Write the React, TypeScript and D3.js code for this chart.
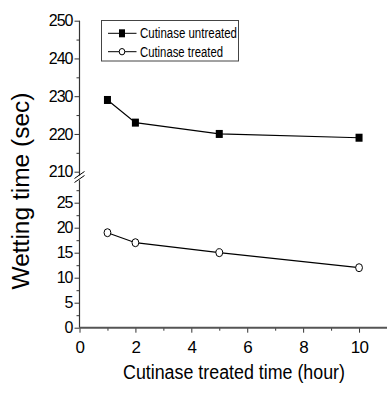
import React, { useEffect, useRef } from "react";
import * as d3 from "d3";

// data
const hours = [1, 2, 5, 10];
const untreated = [229, 223, 220, 219];
const treated = [19, 17, 15, 12];
const seriesNames = ["Cutinase untreated", "Cutinase treated"];
const xTicks = [0, 2, 4, 6, 8, 10];
const topTicks = [210, 220, 230, 240, 250];
const bottomTicks = [0, 5, 10, 15, 20, 25];

const App = () => {
  const ref = useRef<SVGSVGElement | null>(null);

  useEffect(() => {
    drawChart();
  }, []);

  const drawChart = () => {
    const width = 387,
      height = 393;
    const font = "Arial, 'Liberation Sans', sans-serif";
    const axisColor = "#333";

    const svg = d3.select(ref.current);
    svg.selectAll("*").remove();

    const x = d3.scaleLinear().domain([0, 11]).range([79.5, 387]);
    // broken y axis: upper part and lower part
    const yTop = d3.scaleLinear().domain([210, 250]).range([171.7, 20.7]);
    const yBot = d3.scaleLinear().domain([0, 25]).range([327.7, 202.7]);

    const styleAxis = (g: any, size: number, ls: number) => {
      g.select(".domain").remove();
      g.selectAll("line").attr("stroke", axisColor).attr("stroke-width", 1);
      g.selectAll("text")
        .attr("font-family", font)
        .attr("font-size", size)
        .attr("letter-spacing", ls)
        .attr("fill", "#000");
    };

    // left axis, upper part
    const gTop = svg.append("g").attr("transform", `translate(${x(0)},0)`);
    gTop
      .append("g")
      .call(d3.axisLeft(yTop).tickValues(topTicks).tickSize(5).tickPadding(2).tickFormat(d3.format("d")))
      .call((g) => styleAxis(g, 16, -1));
    gTop
      .append("g")
      .call(d3.axisLeft(yTop).tickValues(d3.range(215, 250, 10)).tickSize(3).tickFormat(() => ""))
      .call((g) => styleAxis(g, 16, -1));
    gTop
      .append("line")
      .attr("y1", yTop(250))
      .attr("y2", yTop(209))
      .attr("stroke", axisColor)
      .attr("stroke-width", 1.2);

    // left axis, lower part
    const gBot = svg.append("g").attr("transform", `translate(${x(0)},0)`);
    gBot
      .append("g")
      .call(d3.axisLeft(yBot).tickValues(bottomTicks).tickSize(5).tickPadding(2).tickFormat(d3.format("d")))
      .call((g) => styleAxis(g, 16, -1));
    gBot
      .append("g")
      .call(d3.axisLeft(yBot).tickValues(d3.range(2.5, 28, 5)).tickSize(3).tickFormat(() => ""))
      .call((g) => styleAxis(g, 16, -1));
    gBot
      .append("line")
      .attr("y1", yBot(0))
      .attr("y2", yBot(29.5))
      .attr("stroke", axisColor)
      .attr("stroke-width", 1.2);

    // break marks
    [0, 4].forEach((off) => {
      svg
        .append("line")
        .attr("x1", x(0) - 5)
        .attr("y1", yTop(209) + off + 3)
        .attr("x2", x(0) + 5)
        .attr("y2", yTop(209) + off - 4)
        .attr("stroke", "#000")
        .attr("stroke-width", 1);
    });

    // bottom axis
    const gx = svg.append("g").attr("transform", `translate(0,${yBot(0)})`);
    gx.append("g")
      .call(d3.axisBottom(x).tickValues(xTicks).tickSize(5).tickPadding(8).tickFormat(d3.format("d")))
      .call((g) => styleAxis(g, 17, -0.6));
    gx.append("g")
      .call(d3.axisBottom(x).tickValues([1, 3, 5, 7, 9, 11]).tickSize(3).tickFormat(() => ""))
      .call((g) => styleAxis(g, 17, -0.6));
    gx.append("line")
      .attr("x1", x(0))
      .attr("x2", width)
      .attr("stroke", "#555")
      .attr("stroke-width", 2);

    // series lines
    const lineTop = d3
      .line<number>()
      .x((d, i) => x(hours[i]))
      .y((d) => yTop(d));
    const lineBot = d3
      .line<number>()
      .x((d, i) => x(hours[i]))
      .y((d) => yBot(d));

    svg.append("path").attr("d", lineTop(untreated)).attr("fill", "none").attr("stroke", "#000").attr("stroke-width", 1.2);
    svg.append("path").attr("d", lineBot(treated)).attr("fill", "none").attr("stroke", "#000").attr("stroke-width", 1.2);

    svg
      .append("g")
      .selectAll("rect")
      .data(untreated)
      .join("rect")
      .attr("x", (d, i) => x(hours[i]) - 3.5)
      .attr("y", (d) => yTop(d) - 4)
      .attr("width", 7)
      .attr("height", 8)
      .attr("fill", "#000");

    svg
      .append("g")
      .selectAll("ellipse")
      .data(treated)
      .join("ellipse")
      .attr("cx", (d, i) => x(hours[i]))
      .attr("cy", (d) => yBot(d))
      .attr("rx", 3.4)
      .attr("ry", 4)
      .attr("fill", "#fff")
      .attr("stroke", "#000")
      .attr("stroke-width", 1);

    // legend
    const legend = svg.append("g");
    legend
      .append("rect")
      .attr("x", 101.5)
      .attr("y", 20.5)
      .attr("width", 137)
      .attr("height", 40.5)
      .attr("fill", "#fff")
      .attr("stroke", "#444")
      .attr("stroke-width", 1);

    const rows = [33.3, 51.7];
    const textLens = [97, 83];
    seriesNames.forEach((name, i) => {
      const cy = rows[i];
      legend
        .append("line")
        .attr("x1", 108)
        .attr("x2", 136.5)
        .attr("y1", cy)
        .attr("y2", cy)
        .attr("stroke", "#000")
        .attr("stroke-width", 1);
      if (i === 0) {
        legend.append("rect").attr("x", 119).attr("y", cy - 4).attr("width", 6).attr("height", 8).attr("fill", "#000");
      } else {
        legend
          .append("ellipse")
          .attr("cx", 122)
          .attr("cy", cy)
          .attr("rx", 2.8)
          .attr("ry", 3.2)
          .attr("fill", "#fff")
          .attr("stroke", "#000");
      }
      legend
        .append("text")
        .attr("x", 140)
        .attr("y", cy + 5)
        .attr("font-family", font)
        .attr("font-size", 14)
        .attr("textLength", textLens[i])
        .attr("lengthAdjust", "spacingAndGlyphs")
        .text(name);
    });

    // axis titles
    svg
      .append("text")
      .attr("transform", `translate(29,191) rotate(-90)`)
      .attr("text-anchor", "middle")
      .attr("font-family", font)
      .attr("font-size", 23)
      .attr("textLength", 197)
      .attr("lengthAdjust", "spacingAndGlyphs")
      .text("Wetting time (sec)");

    svg
      .append("text")
      .attr("x", 123)
      .attr("y", 379)
      .attr("font-family", font)
      .attr("font-size", 20)
      .attr("textLength", 222)
      .attr("lengthAdjust", "spacingAndGlyphs")
      .text("Cutinase treated time (hour)");

    svg.attr("width", width).attr("height", height);
  };

  return (
    <svg
      ref={ref}
      width={387}
      height={393}
      style={{ position: "absolute", left: 0, top: 0, background: "#fff" }}
    ></svg>
  );
};

export default App;
